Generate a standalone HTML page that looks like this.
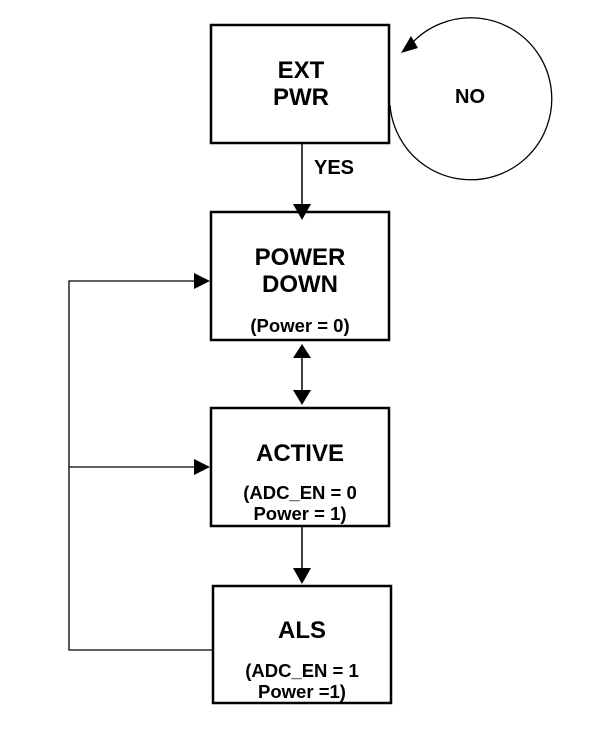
<!DOCTYPE html>
<html><head><style>html,body{margin:0;padding:0;background:#fff}</style></head>
<body>
<svg width="601" height="728" viewBox="0 0 601 728" xmlns="http://www.w3.org/2000/svg" font-family="Liberation Sans, Arial, sans-serif" font-weight="bold" text-anchor="middle">
<g fill="none" stroke="#000">
<rect x="211" y="25" width="178" height="118" stroke-width="2.5"/>
<rect x="211" y="212" width="178" height="128" stroke-width="2.5"/>
<rect x="211" y="408" width="178" height="118" stroke-width="2.5"/>
<rect x="213" y="586" width="178" height="117" stroke-width="2.5"/>
<path d="M412 43 A81 81 0 1 1 390 105" stroke-width="1.3"/>
<line x1="302" y1="143" x2="302" y2="206" stroke-width="1.5"/>
<line x1="302" y1="352" x2="302" y2="396" stroke-width="1.5"/>
<line x1="302" y1="526" x2="302" y2="572" stroke-width="1.5"/>
<polyline points="213,650 69,650 69,281 198,281" stroke-width="1.3"/>
<line x1="69" y1="467" x2="198" y2="467" stroke-width="1.3"/>
</g>
<g fill="#000">
<polygon points="401,53 411,36 418,48"/>
<polygon points="293,204 311,204 302,220"/>
<polygon points="293,358 311,358 302,344"/>
<polygon points="293,390 311,390 302,405"/>
<polygon points="293,568 311,568 302,584"/>
<polygon points="194,273 194,289 210,281"/>
<polygon points="194,459 194,475 210,467"/>
</g>
<g fill="#000">
<text x="301" y="78" font-size="24">EXT</text>
<text x="301" y="105" font-size="24">PWR</text>
<text x="470" y="103" font-size="20">NO</text>
<text x="334" y="174" font-size="20">YES</text>
<text x="300" y="265" font-size="24">POWER</text>
<text x="300" y="292" font-size="24">DOWN</text>
<text x="300" y="332" font-size="18.5">(Power = 0)</text>
<text x="300" y="461" font-size="24">ACTIVE</text>
<text x="300" y="499" font-size="18.5">(ADC_EN = 0</text>
<text x="300" y="520" font-size="18.5">Power = 1)</text>
<text x="302" y="638" font-size="24">ALS</text>
<text x="302" y="677" font-size="18.5">(ADC_EN = 1</text>
<text x="302" y="698" font-size="18.5">Power =1)</text>
</g>
</svg>
</body></html>
